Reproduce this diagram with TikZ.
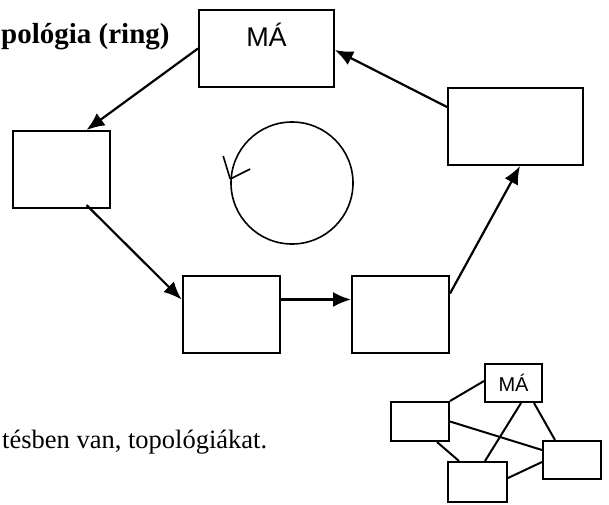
\documentclass[tikz,border=0pt]{standalone}
\usepackage{fontspec}
\setmainfont{Liberation Serif}
\newfontfamily\arialfont{Liberation Sans}
\usetikzlibrary{arrows.meta}

\begin{document}
\begin{tikzpicture}[x=1pt,y=-1pt,
    station/.style={draw,line width=2pt,inner sep=0pt},
    bigbox/.style={station,minimum width=135pt,minimum height=77pt},
    midbox/.style={station,minimum width=97pt,minimum height=77pt},
    tinybox/.style={station,minimum width=58pt,minimum height=39pt},
    link/.style={line width=2.2pt,-{Latex[length=18pt,width=15pt]}},
    mesh/.style={line width=2pt}]
    \useasboundingbox (0,0) rectangle (609,504);

    \node[anchor=base west,inner xsep=0pt,font=\fontsize{29}{34}\selectfont\bfseries] at (1,43) (title) {pológia (ring)};
    \node[anchor=base west,inner xsep=0pt,font=\fontsize{26.5}{32}\selectfont] at (2,448) (caption) {tésben van, topológiákat.};

    % ring
    \node[bigbox,label={[anchor=north,yshift=-11pt,font=\arialfont\fontsize{27}{30}\selectfont]north:MÁ}] at (266.5,48.5) (MA) {};
    \node[bigbox] at (515.5,126.5) (Rt) {};
    \node[midbox] at (61.5,169.5) (Lt) {};
    \node[midbox] at (231,314.5) (BLt) {};
    \node[midbox] at (400.5,314.5) (BRt) {};

    \draw[link] (MA.west) to ([xshift=25pt]Lt.north);
    \draw[link] ([xshift=25pt,yshift=4pt]Lt.south) to ([yshift=15pt]BLt.west);
    \draw[link] ([yshift=15pt]BLt.east) to ([yshift=15pt]BRt.west);
    \draw[link] ([yshift=21pt]BRt.east) to ([xshift=4.5pt]Rt.south);
    \draw[link] ([yshift=19.5pt]Rt.west) to ([yshift=-1.5pt]MA.east);

    % direction
    \node[draw,circle,line width=1.6pt,minimum size=122pt,inner sep=0pt] at (292,183) (cyc) {};
    \draw[line width=1.6pt] ([yshift=4pt]cyc.west) -- ++(-7,-23);
    \draw[line width=1.6pt] ([yshift=4pt]cyc.west) -- ++(20,-10);

    % mesh
    \node[tinybox,minimum width=57pt,minimum height=38pt,font=\arialfont\fontsize{20}{23}\selectfont] at (513.5,383) (sMA) {MÁ};
    \node[tinybox] at (420,421.5) (sL) {};
    \node[tinybox,minimum width=59pt,minimum height=40pt] at (477.5,482) (sB) {};
    \node[tinybox,minimum height=38pt] at (572,460) (sR) {};

    \draw[mesh] (sL.north east) to ([yshift=2pt]sMA.west);
    \draw[mesh] (sL.east) to ([yshift=10pt]sR.west);
    \draw[mesh] ([xshift=17pt]sL.south) to ([xshift=-18.5pt]sB.north);
    \draw[mesh] ([xshift=7.5pt]sMA.south) to ([xshift=7.5pt]sB.north);
    \draw[mesh] ([xshift=20.5pt]sMA.south) to ([xshift=-17pt]sR.north);
    \draw[mesh] ([yshift=4pt]sB.east) to ([yshift=-2pt]sR.west);
\end{tikzpicture}
\end{document}
